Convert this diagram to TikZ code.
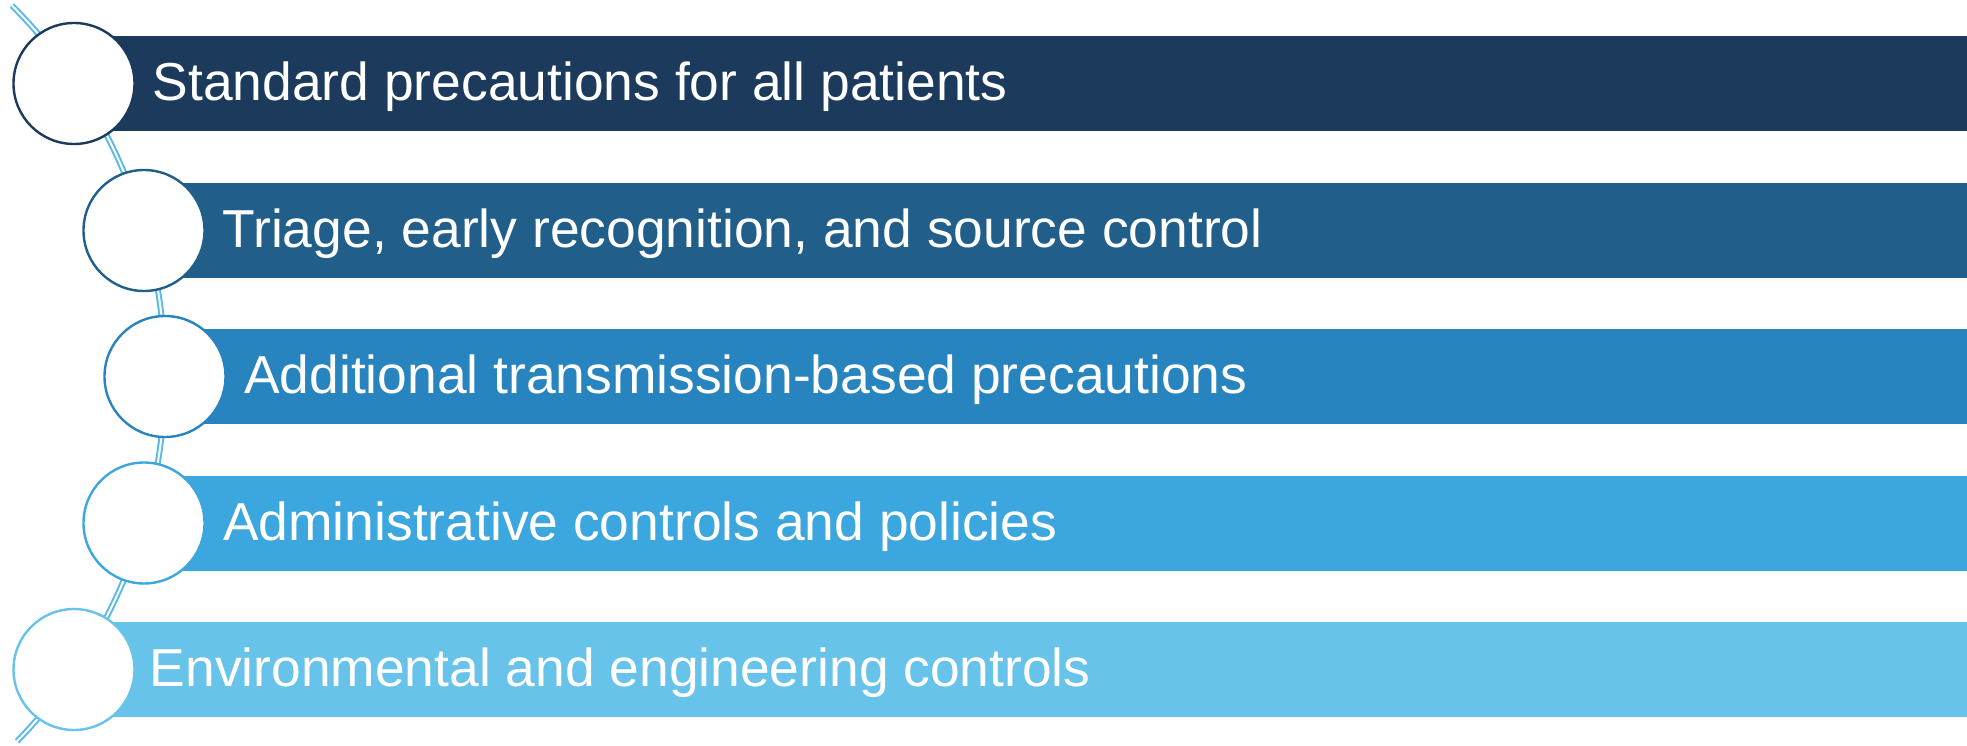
\documentclass[tikz,border=0pt]{standalone}
\usepackage{fontspec}
\setmainfont{Liberation Sans}
\definecolor{stepA}{HTML}{1B3A5C}
\definecolor{stepB}{HTML}{215E8A}
\definecolor{stepC}{HTML}{2784BF}
\definecolor{stepD}{HTML}{3CA6DE}
\definecolor{stepE}{HTML}{68C3EA}
\definecolor{spine}{HTML}{58BAE8}
\begin{document}
\begin{tikzpicture}[x=1pt,y=-1pt,
  barbox/.style={draw=none,fill=#1,rectangle,anchor=west,inner sep=0pt,
    minimum height=95pt},
  dot/.style={circle,draw=#1,line width=2.4pt,fill=white,inner sep=0pt,
    minimum size=121pt},
  label/.style={anchor=base west,inner sep=0pt,text=white,
    font=\fontsize{53.4}{58}\selectfont}]
  \useasboundingbox (0,0) rectangle (1967,746);

  % curved double spine linking the markers (arc about a far-left centre)
  \coordinate (hub) at (-360,376);
  \draw[spine,line width=2pt,double=white,double distance=2pt]
    (hub) ++(44.9:525pt) arc[start angle=44.9,end angle=-44.1,radius=525pt];

  % horizontal bars
  \node[barbox=stepA,minimum width=1893pt] (b1) at (74,83.5) {};
  \node[barbox=stepB,minimum width=1823pt] (b2) at (144,230.5) {};
  \node[barbox=stepC,minimum width=1802pt] (b3) at (165,376.5) {};
  \node[barbox=stepD,minimum width=1823pt] (b4) at (144,523) {};
  \node[barbox=stepE,minimum width=1893pt] (b5) at (74,669.5) {};

  % circular markers
  \node[dot=stepA] (c1) at (74,83.5) {};
  \node[dot=stepB] (c2) at (144,230.5) {};
  \node[dot=stepC] (c3) at (165,376.5) {};
  \node[dot=stepD] (c4) at (144,523) {};
  \node[dot=stepE] (c5) at (74,669.5) {};

  % bar labels
  \node[label] (t1) at (152.5,100.5) {Standard precautions for all patients};
  \node[label] (t2) at (222.5,247.5) {Triage, early recognition, and source control};
  \node[label] (t3) at (244,393.5) {Additional transmission-based precautions};
  \node[label] (t4) at (223,540) {Administrative controls and policies};
  \node[label] (t5) at (149.5,686.5) {Environmental and engineering controls};
\end{tikzpicture}
\end{document}
